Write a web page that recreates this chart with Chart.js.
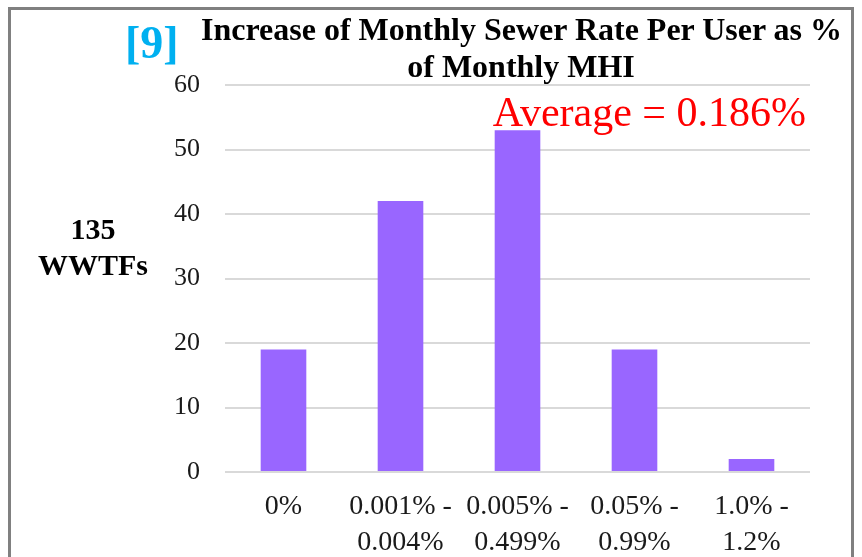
<!DOCTYPE html>
<html>
<head>
<meta charset="utf-8">
<script src="https://cdn.jsdelivr.net/npm/chart.js@4/dist/chart.umd.min.js"></script>
<style>
  body { margin: 0; background: #fff; }
  #wrap { position: relative; width: 862px; height: 557px; overflow: hidden; font-family: "Liberation Serif", "Times New Roman", serif; }
  #frame { position: absolute; left: 8px; top: 7px; width: 846px; height: 600px; border: 3px solid #808080; box-sizing: border-box; }
  canvas { position: absolute; left: 0; top: 0; }
  .txt { position: absolute; white-space: nowrap; }
  #ref { left: 125px; top: 20px; font-size: 46px; line-height: 46px; font-weight: bold; color: #00b0f0; }
  #title { left: 201px; width: 640px; top: 11px; font-size: 32px; line-height: 37px; font-weight: bold; text-align: center; color: #000; }
  #ylab { left: 33px; width: 120px; top: 211px; font-size: 30px; line-height: 36px; font-weight: bold; text-align: center; color: #000; }
  #avg { right: 56px; top: 91px; font-size: 42px; line-height: 42px; color: #ff0000; }
</style>
</head>
<body>
<div id="wrap">
  <canvas id="c" width="862" height="557"></canvas>
  <div id="frame"></div>
  <div class="txt" id="ref">[9]</div>
  <div class="txt" id="title">Increase of Monthly Sewer Rate Per User as %<br>of Monthly MHI</div>
  <div class="txt" id="ylab">135<br>WWTFs</div>
  <div class="txt" id="avg">Average = 0.186%</div>
</div>
<script>
// categories (x axis, two lines each)
const categories = [
    ["0%"],
    ["0.001% -", "0.004%"],
    ["0.005% -", "0.499%"],
    ["0.05% -", "0.99%"],
    ["1.0% -", "1.2%"]
];
// number of WWTFs per range
const counts = [19, 42, 53, 19, 2];
const yTicks = [0, 10, 20, 30, 40, 50, 60];

const barColor = "#9966ff";

let config = {
    type: 'bar',
    data: {
        labels: categories,
        datasets: [{
            data: counts,
            backgroundColor: barColor,
            borderWidth: 0,
            barPercentage: 0.39,
            categoryPercentage: 1.0
        }]
    },
    options: {
        responsive: false,
        animation: false,
        devicePixelRatio: 1,
        layout: {
            padding: { left: 165, right: 52, top: 85, bottom: 0 }
        },
        plugins: {
            legend: { display: false },
            tooltip: { enabled: false }
        },
        scales: {
            x: {
                grid: { display: false, drawTicks: false },
                border: { display: false },
                ticks: {
                    color: "#1a1a1a",
                    padding: 16,
                    maxRotation: 0,
                    autoSkip: false,
                    font: { family: "Liberation Serif", size: 28, lineHeight: 1.3 }
                },
                afterFit: (scale)=>{ scale.height = 85; }
            },
            y: {
                min: yTicks[0],
                max: yTicks[yTicks.length - 1],
                afterBuildTicks: (scale)=>{ scale.ticks = yTicks.map(v => ({ value: v })); },
                grid: { color: "#d9d9d9", lineWidth: 2, drawTicks: false },
                border: { display: false },
                ticks: {
                    color: "#1a1a1a",
                    padding: 25,
                    font: { family: "Liberation Serif", size: 26 }
                },
                afterFit: (scale)=>{ scale.width = 60; }
            }
        }
    }
};

new Chart(document.getElementById("c"), config);
</script>
</body>
</html>
